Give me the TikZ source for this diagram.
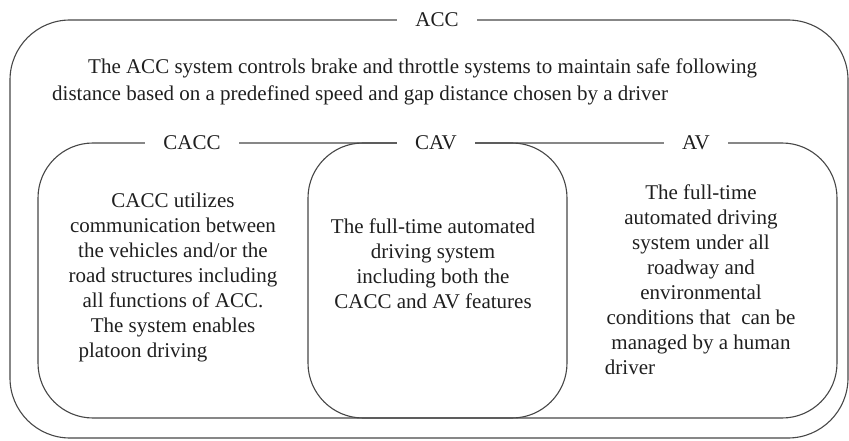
\documentclass[tikz,border=0pt]{standalone}
\usepackage{fontspec}
\setmainfont{Liberation Serif}
\begin{document}
\begin{tikzpicture}[x=1pt,y=-1pt,
  frame/.style={draw=black!72, line width=1.1pt, rounded corners=55pt, inner sep=0pt},
  tag/.style={fill=white, inner xsep=18pt, inner ysep=2pt, font=\fontsize{21}{25}\selectfont, text=black!88},
  body/.style={align=center, font=\fontsize{21}{25}\selectfont, text=black!88, inner sep=0pt}]
\useasboundingbox (0,0) rectangle (849,441);
% boxes
\node[frame, rounded corners=60pt, minimum width=838pt, minimum height=418pt] (accbox) at (429,229) {};
\node[frame, minimum width=529pt, minimum height=275pt] (caccbox) at (302.5,280.5) {};
\node[frame, minimum width=529pt, minimum height=275pt] (avbox) at (572.5,280.5) {};
% labels
\node[tag] (acc) at (437,20) {ACC};
\node[tag] (cacc) at (192,143) {CACC};
\node[tag] (cav) at (436,143) {CAV};
\node[tag] (av) at (696,143) {AV};
% texts
\node[body, align=left, font=\fontsize{21}{27}\selectfont, anchor=west] (acctext) at (52,82)
  {\hspace*{36pt}The ACC system controls brake and throttle systems to maintain safe following\\distance based on a predefined speed and gap distance chosen by a driver};
\node[body] (cacctext) at (173,277)
  {CACC utilizes\\communication between\\the vehicles and/or the\\road structures including\\all functions of ACC.\\The system enables\\platoon driving\hspace*{60pt}};
\node[body] (cavtext) at (433,264)
  {The full-time automated\\driving system\\including both the\\CACC and AV features};
\node[body] (avtext) at (701,280)
  {The full-time\\automated driving\\system under all\\roadway and\\environmental\\conditions that~ can be\\managed by a human\\driver\hspace*{142pt}};
\end{tikzpicture}
\end{document}
